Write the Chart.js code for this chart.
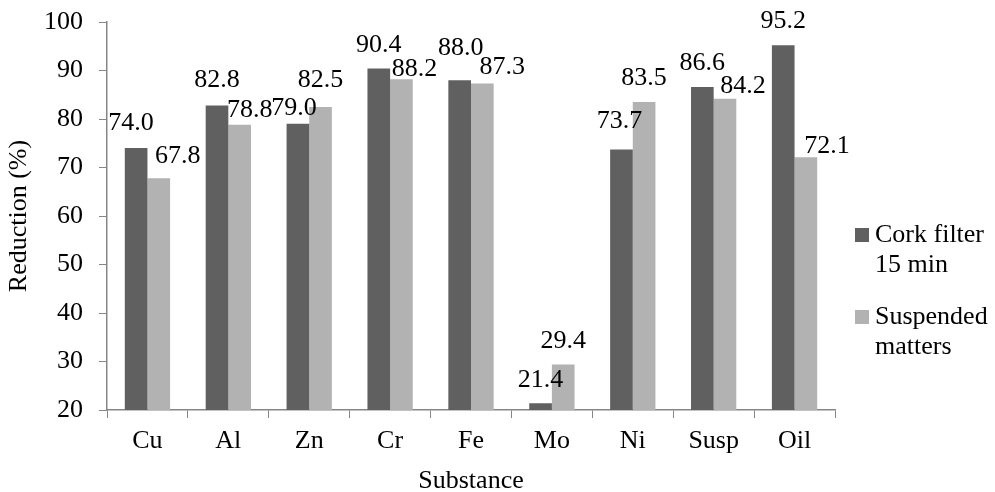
<!DOCTYPE html>
<html>
<head>
<meta charset="utf-8">
<script src="https://cdn.jsdelivr.net/npm/chart.js@4/dist/chart.umd.min.js"></script>
<style>
	html, body { margin: 0; padding: 0; background: #fff; }
	#wrap { width: 995px; height: 492px; }
</style>
</head>
<body>
<div id="wrap"><canvas id="chart"></canvas></div>
<script>
"use strict";

// Data

var SUBSTANCES = ["Cu", "Al", "Zn", "Cr", "Fe", "Mo", "Ni", "Susp", "Oil"],
	CORK_FILTER = [74.0, 82.8, 79.0, 90.4, 88.0, 21.4, 73.7, 86.6, 95.2],
	SUSPENDED = [67.8, 78.8, 82.5, 88.2, 87.3, 29.4, 83.5, 84.2, 72.1];

var SERIES_LINES = [["Cork filter", "15 min"], ["Suspended", "matters"]];

var Y_MIN = 20, Y_MAX = 100, Y_STEP = 10;

// Styles

var FONT = "'Liberation Serif', 'Times New Roman', serif",
	FONT_SIZE = 26,
	DARK = "#606060",
	LIGHT = "#b2b2b2",
	AXIS = "#868686";

// label nudges so that neighbouring values don't collide (px, per series)
var LABEL_DX = [
		[-5, 0, -4, 0, 1, 0, -2, 0, 0],
		[19, 10, 0, 13, 20, 0, 0, 18, 21]
	],
	LABEL_GAP = [
		[18, 18, 9, 17, 25, 16, 22, 17, 17],
		[15, 8, 20, 3, 10, 16, 17, 6, 4]
	];

// draws the value above each bar
var valueLabels = {
	id: "valueLabels",
	afterDatasetsDraw: function (chart) {
		var ctx = chart.ctx;

		ctx.save();
		ctx.font = FONT_SIZE + "px " + FONT;
		ctx.fillStyle = "#000";
		ctx.textAlign = "center";
		ctx.textBaseline = "alphabetic";
		chart.data.datasets.forEach(function (ds, i) {
			chart.getDatasetMeta(i).data.forEach(function (bar, j) {
				ctx.fillText(ds.data[j].toFixed(1), bar.x + LABEL_DX[i][j],
					bar.y - LABEL_GAP[i][j]);
			});
		});
		ctx.restore();
	}
};

// legend on the right, labels wrapped on two lines
var sideLegend = {
	id: "sideLegend",
	afterDraw: function (chart) {
		var ctx = chart.ctx, x = 855, y = 242, colors = [DARK, LIGHT];

		ctx.save();
		ctx.font = FONT_SIZE + "px " + FONT;
		ctx.textAlign = "left";
		ctx.textBaseline = "alphabetic";
		SERIES_LINES.forEach(function (lines, i) {
			var base = y + i * 82;

			ctx.fillStyle = colors[i];
			ctx.fillRect(x, base - 14, 14, 14);
			ctx.fillStyle = "#000";
			lines.forEach(function (line, k) {
				ctx.fillText(line, x + 20, base + k * 30);
			});
		});
		ctx.restore();
	}
};

var chart = new Chart(document.getElementById("chart"), {
	type: "bar",
	data: {
		labels: SUBSTANCES,
		datasets: [
			{ label: SERIES_LINES[0].join(" "), data: CORK_FILTER, backgroundColor: DARK },
			{ label: SERIES_LINES[1].join(" "), data: SUSPENDED, backgroundColor: LIGHT }
		]
	},
	options: {
		responsive: true,
		maintainAspectRatio: false,
		animation: false,
		events: [],
		layout: { padding: { top: 22, right: 160, bottom: 0, left: 0 } },
		datasets: {
			bar: { categoryPercentage: 0.56, barPercentage: 1.0, borderWidth: 0 }
		},
		plugins: {
			legend: { display: false },
			tooltip: { enabled: false }
		},
		scales: {
			x: {
				grid: {
					offset: true,
					drawOnChartArea: false,
					drawTicks: true,
					tickLength: 8,
					color: AXIS
				},
				border: { color: AXIS, width: 1.5 },
				ticks: {
					color: "#000",
					font: { family: FONT, size: FONT_SIZE },
					padding: 8
				},
				title: {
					display: true,
					text: "Substance",
					color: "#000",
					font: { family: FONT, size: FONT_SIZE },
					padding: { top: 0, bottom: -5 }
				},
				afterFit: function (scale) {
					scale.height = 82;
				}
			},
			y: {
				min: Y_MIN,
				max: Y_MAX,
				grid: {
					drawOnChartArea: false,
					drawTicks: true,
					tickLength: 8,
					color: AXIS
				},
				border: { color: AXIS, width: 1.5 },
				ticks: {
					stepSize: Y_STEP,
					color: "#000",
					font: { family: FONT, size: FONT_SIZE },
					padding: 16
				},
				title: {
					display: true,
					text: "Reduction (%)",
					color: "#000",
					font: { family: FONT, size: FONT_SIZE },
					padding: { top: 4, bottom: 4 }
				},
				afterFit: function (scale) {
					scale.width = 107;
					scale.paddingTop = 0;
					scale.paddingBottom = 0;
				}
			}
		}
	},
	plugins: [valueLabels, sideLegend]
});
</script>
</body>
</html>
